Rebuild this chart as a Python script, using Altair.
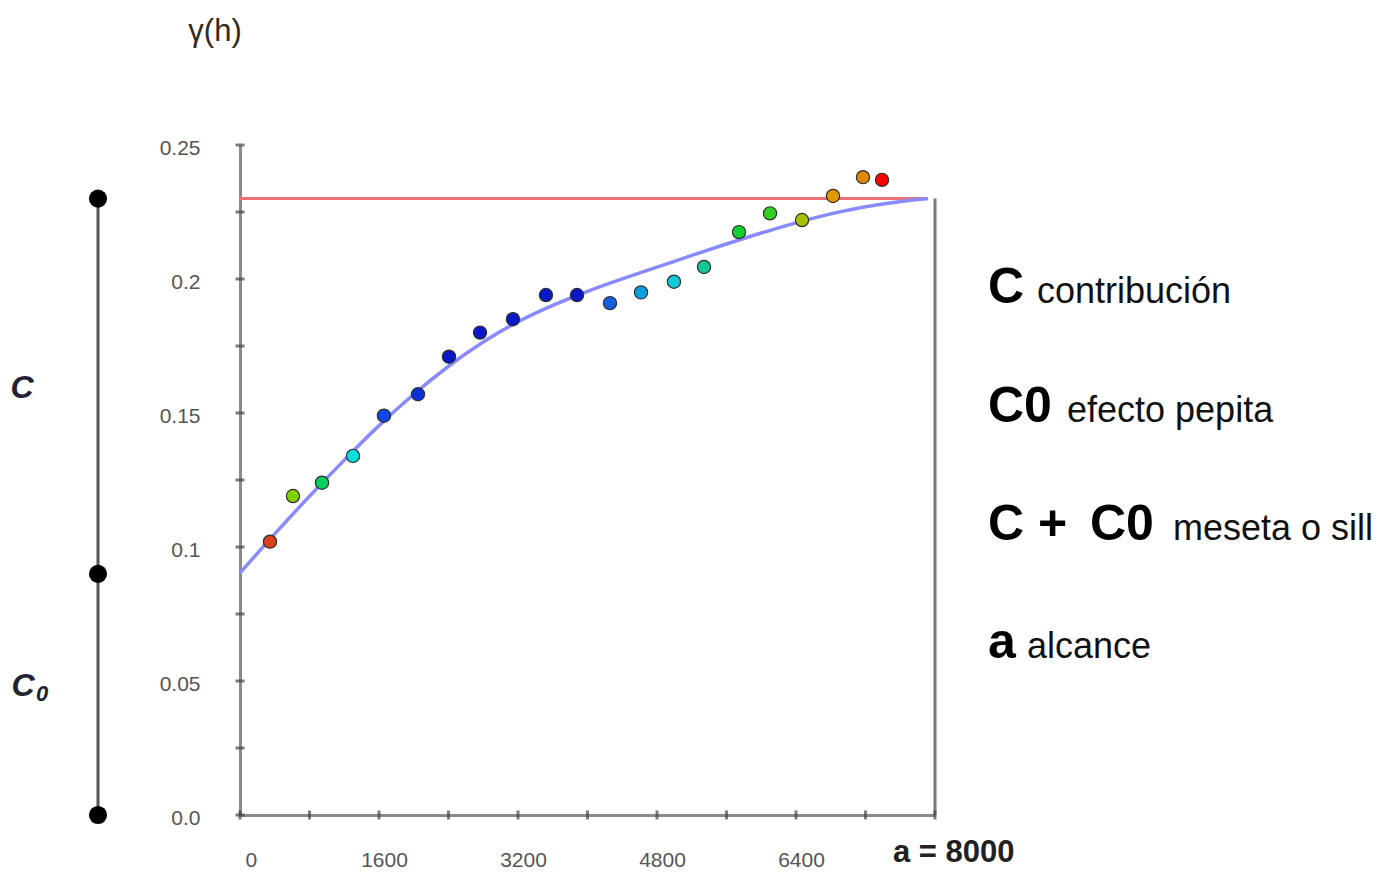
import altair as alt
import pandas as pd

# ---- data ----
lag = [345, 610, 944, 1301, 1657, 2049, 2406, 2763, 3142, 3522, 3879,
       4259, 4616, 4995, 5341, 5744, 6101, 6469, 6826, 7171, 7390]
gamma = [0.102, 0.119, 0.124, 0.134, 0.149, 0.157, 0.171, 0.180, 0.185, 0.194, 0.194,
         0.191, 0.195, 0.199, 0.2045, 0.2175, 0.2245, 0.222, 0.231, 0.238, 0.237]
point_colors = ["#d9401c", "#80d000", "#00d060", "#00dede", "#1048e8", "#0a30d8",
                "#0818c8", "#0818c8", "#0818c8", "#0818c8", "#0818c8", "#1060e0",
                "#0aa0e0", "#10c8d8", "#10c890", "#10d030", "#30d020", "#a8c000",
                "#e09a00", "#e08800", "#ff0000"]

model_lag = [0, 400, 800, 1200, 1600, 2000, 2400, 2800, 3200, 3600, 4000,
             4400, 4800, 5200, 5600, 6000, 6400, 6800, 7200, 7600, 7920]
model_gamma = [0.0903, 0.1050, 0.1190, 0.1325, 0.1455, 0.1572, 0.1677, 0.1767, 0.1843,
               0.1903, 0.1955, 0.2001, 0.2044, 0.2088, 0.2131, 0.2172, 0.2210, 0.2244,
               0.2271, 0.2290, 0.2300]

sill = 0.23
nugget = 0.09
alcance = 8000

x_tick_values = [0, 800, 1600, 2400, 3200, 4000, 4800, 5600, 6400, 7200, 8000]
y_tick_values = [0, 0.025, 0.05, 0.075, 0.1, 0.125, 0.15, 0.175, 0.2, 0.225, 0.25]

# ---- tables ----
pts = pd.DataFrame({"x": lag, "y": gamma, "c": point_colors})
model = pd.DataFrame({"x": model_lag, "y": model_gamma})
sill_df = pd.DataFrame({"x": [model_lag[0]], "x2": [model_lag[-1]], "y": [sill]})
range_df = pd.DataFrame({"x": [alcance], "y": [0.0], "y2": [sill]})
bracket_line = pd.DataFrame({"y": [0.0], "y2": [sill]})
bracket_dots = pd.DataFrame({"y": [0.0, nugget, sill]})
xt = pd.DataFrame({"x": x_tick_values, "y": [0.0] * len(x_tick_values)})
yt = pd.DataFrame({"x": [0] * len(y_tick_values), "y": y_tick_values})

NARROW = "Liberation Sans Narrow, Liberation Sans, sans-serif"
SANS = "Liberation Sans, Arial, sans-serif"

xscale = alt.Scale(domain=[0, 8000], nice=False, zero=False)
yscale = alt.Scale(domain=[0, 0.25], nice=False, zero=False)

xaxis = alt.Axis(
    title=None, values=x_tick_values, format="d", grid=False, ticks=False,
    domainColor="#8a8a8a", domainWidth=3,
    labelExpr="datum.value % 1600 == 0 && datum.value < 8000 ? datum.label : ''",
    labelFont=NARROW, labelFontSize=21, labelColor="#555555",
    labelPadding=34, labelOffset=5, labelBaseline="top",
)
yaxis = alt.Axis(
    title=None, values=y_tick_values, grid=False, ticks=False,
    domainColor="#8a8a8a", domainWidth=3,
    labelExpr="datum.value == 0 ? '0.0' : (round(datum.value * 1000) % 50 == 0 ? format(datum.value, '~g') : '')",
    labelFont=NARROW, labelFontSize=21, labelColor="#555555",
    labelPadding=40, labelAlign="right", labelOffset=3,
)


def X(f="x"):
    return alt.X(f"{f}:Q", scale=xscale, axis=xaxis)


def Y(f="y"):
    return alt.Y(f"{f}:Q", scale=yscale, axis=yaxis)


one = alt.Data(values=[{"a": 1}])

x_ticks = alt.Chart(xt).mark_tick(orient="vertical", size=9, thickness=3, color="#444444").encode(x=X(), y=Y())
y_ticks = alt.Chart(yt).mark_tick(orient="horizontal", size=9, thickness=3, color="#444444").encode(x=X(), y=Y())

sill_rule = alt.Chart(sill_df).mark_rule(color="#f0707a", strokeWidth=3).encode(
    x=X(), x2="x2:Q", y=Y())
range_rule = alt.Chart(range_df).mark_rule(color="#7a7a7a", strokeWidth=3).encode(
    x=X(), y=Y(), y2="y2:Q")
curve = alt.Chart(model).mark_line(color="#8a8aff", strokeWidth=3.5, interpolate="basis").encode(
    x=X(), y=Y())
points = alt.Chart(pts).mark_circle(size=175, opacity=1, stroke="#2e2e2e", strokeWidth=1.2).encode(
    x=X(), y=Y(), fill=alt.Fill("c:N", scale=None))

b_line = alt.Chart(bracket_line).mark_rule(color="#555555", strokeWidth=3).encode(
    x=alt.value(-142), y=Y(), y2="y2:Q")
b_dots = alt.Chart(bracket_dots).mark_circle(size=330, color="#000000", opacity=1).encode(
    x=alt.value(-142), y=Y())


def label(text, x, y, size, weight="normal", style="normal", font=SANS, color="#111111",
          align="left", baseline="alphabetic"):
    return alt.Chart(one).mark_text(
        text=text, font=font, fontSize=size, fontWeight=weight, fontStyle=style,
        color=color, align=align, baseline=baseline,
    ).encode(x=alt.value(x), y=alt.value(y))


texts = [
    label("γ(h)", -25, -113, 31, font=NARROW, color="#332a1a", align="center", baseline="middle"),
    label("C", -218, 243, 32, weight="bold", style="italic", color="#222233", align="center", baseline="middle"),
    label("C", -217, 541, 32, weight="bold", style="italic", color="#222233", align="center", baseline="middle"),
    label("0", -198, 549, 22, weight="bold", style="italic", color="#222233", align="center", baseline="middle"),
    label("C", 748, 158, 50, weight="bold", color="#000000"),
    label("contribución", 797, 158, 36),
    label("C0", 748, 277, 50, weight="bold", color="#000000"),
    label("efecto pepita", 827, 277, 36),
    label("C +", 748, 395, 50, weight="bold", color="#000000"),
    label("C0", 850, 395, 50, weight="bold", color="#000000"),
    label("meseta o sill", 933, 395, 36),
    label("a", 748, 513, 50, weight="bold", color="#000000"),
    label("alcance", 787, 513, 36),
    label("a = 8000", 653, 717, 31, weight="bold", color="#222222"),
]

chart = alt.layer(
    sill_rule, range_rule, curve, x_ticks, y_ticks, points, b_line, b_dots, *texts
).properties(
    width=695, height=670,
    autosize=alt.AutoSizeParams(type="none"),
    padding={"left": 240, "top": 145, "right": 455, "bottom": 62},
    background="white",
).configure_view(stroke=None)

chart.save("out.html", embed_options={"renderer": "svg", "actions": False})
